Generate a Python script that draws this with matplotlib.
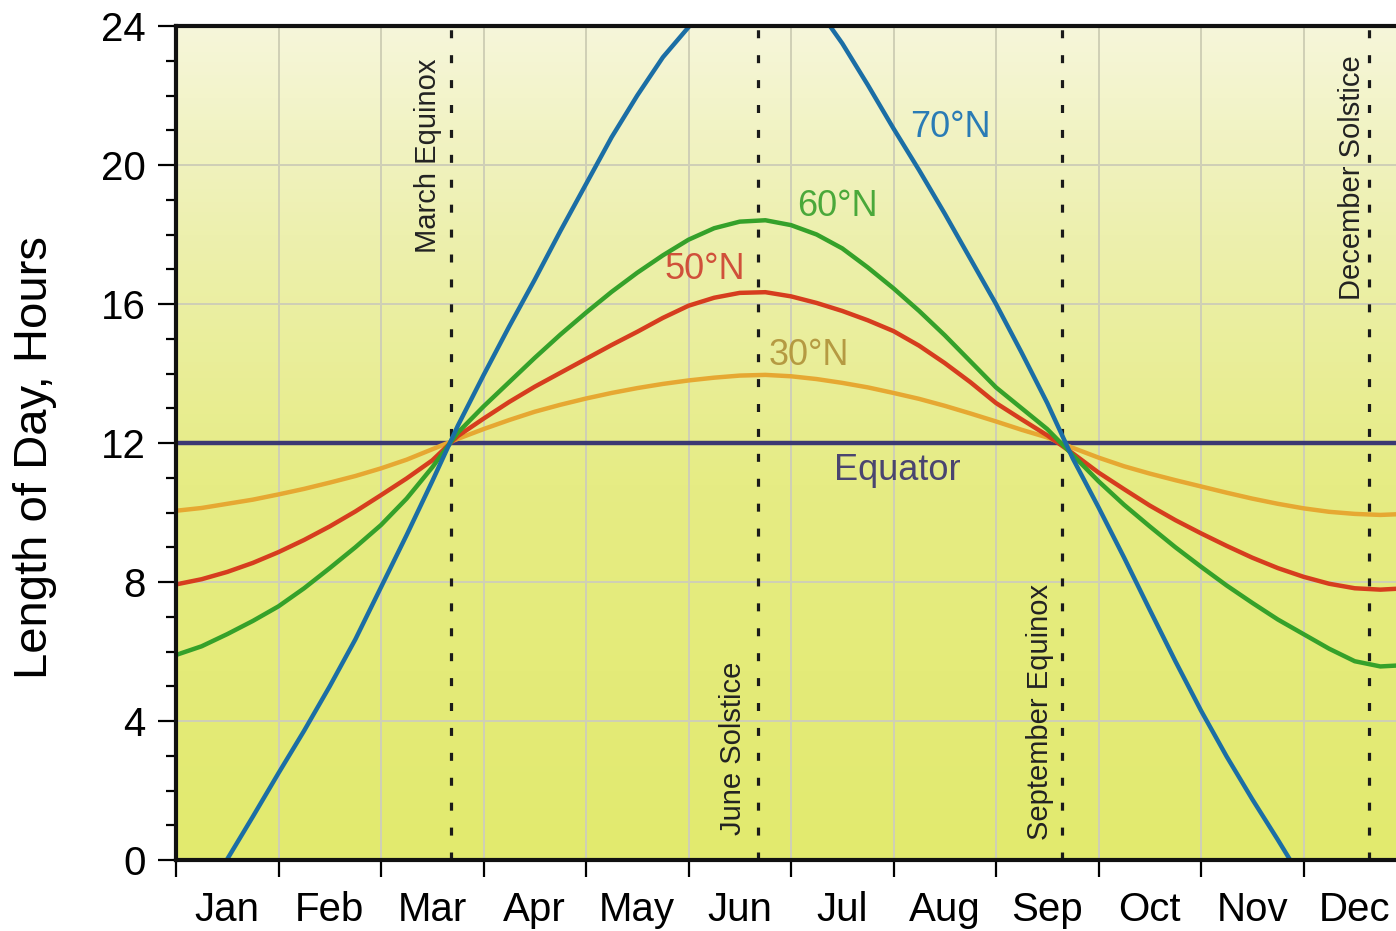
#!/usr/bin/env python3

# Length of day through the year for several northern latitudes

import numpy as np
import matplotlib.pyplot as plt
from matplotlib.colors import LinearSegmentedColormap

plt.rcParams['font.family'] = ['Liberation Sans', 'DejaVu Sans']

###################################################################################

# Data (x = months since Jan 1, y = hours of daylight)

months = ['Jan', 'Feb', 'Mar', 'Apr', 'May', 'Jun',
          'Jul', 'Aug', 'Sep', 'Oct', 'Nov', 'Dec']

# quarter-month positions 0, 0.25, ... 12
x_lat = [0.0, 0.25, 0.5, 0.75, 1.0, 1.25, 1.5, 1.75, 2.0, 2.25, 2.5, 2.75,
         3.0, 3.25, 3.5, 3.75, 4.0, 4.25, 4.5, 4.75, 5.0, 5.25, 5.5, 5.75,
         6.0, 6.25, 6.5, 6.75, 7.0, 7.25, 7.5, 7.75, 8.0, 8.25, 8.5, 8.75,
         9.0, 9.25, 9.5, 9.75, 10.0, 10.25, 10.5, 10.75, 11.0, 11.25, 11.5, 11.75,
         12.0]

day_30n = [10.05, 10.13, 10.25, 10.37, 10.52, 10.68, 10.86, 11.05, 11.27, 11.52, 11.82, 12.12,
           12.40, 12.66, 12.90, 13.10, 13.28, 13.44, 13.58, 13.70, 13.80, 13.88, 13.94, 13.96,
           13.92, 13.84, 13.73, 13.60, 13.44, 13.27, 13.07, 12.85, 12.62, 12.38, 12.16, 11.86,
           11.58, 11.33, 11.12, 10.93, 10.75, 10.57, 10.40, 10.25, 10.12, 10.02, 9.96, 9.93,
           9.96]

day_50n = [7.93, 8.08, 8.29, 8.55, 8.86, 9.21, 9.60, 10.03, 10.50, 10.98, 11.50, 12.20,
           12.70, 13.18, 13.62, 14.02, 14.42, 14.82, 15.20, 15.60, 15.95, 16.18, 16.32, 16.34,
           16.22, 16.03, 15.80, 15.53, 15.22, 14.80, 14.30, 13.75, 13.15, 12.68, 12.22, 11.70,
           11.15, 10.67, 10.20, 9.78, 9.40, 9.04, 8.70, 8.40, 8.15, 7.95, 7.82, 7.78,
           7.82]

day_60n = [5.90, 6.15, 6.50, 6.88, 7.30, 7.82, 8.40, 9.00, 9.64, 10.40, 11.30, 12.30,
           13.05, 13.75, 14.45, 15.12, 15.75, 16.35, 16.90, 17.40, 17.85, 18.18, 18.37, 18.41,
           18.27, 18.00, 17.60, 17.05, 16.45, 15.80, 15.10, 14.35, 13.60, 13.00, 12.40, 11.65,
           10.90, 10.22, 9.60, 9.00, 8.44, 7.90, 7.40, 6.92, 6.50, 6.08, 5.72, 5.57,
           5.61]

x_70n_rise = [0.495, 0.75, 1.0, 1.25, 1.5, 1.75, 2.0, 2.25, 2.5, 2.75, 3.0, 3.25,
              3.5, 3.75, 4.0, 4.25, 4.5, 4.75, 5.01]
day_70n_rise = [0.0, 1.25, 2.5, 3.72, 5.0, 6.35, 7.85, 9.35, 10.9, 12.5, 13.95, 15.35,
                16.7, 18.1, 19.45, 20.8, 22.0, 23.1, 24.0]

x_70n_fall = [6.38, 6.5, 6.75, 7.0, 7.25, 7.5, 7.75, 8.0, 8.25, 8.5, 8.75, 9.0,
              9.25, 9.5, 9.75, 10.0, 10.25, 10.5, 10.75, 10.87]
day_70n_fall = [24.0, 23.5, 22.3, 21.05, 19.85, 18.6, 17.3, 16.0, 14.6, 13.15, 11.55, 10.15,
                8.7, 7.2, 5.72, 4.3, 2.98, 1.75, 0.58, 0.0]

x_equator = [0.0, 12.0]
day_equator = [12.0, 12.0]

events = ['March Equinox', 'June Solstice', 'September Equinox', 'December Solstice']
event_x = [2.68, 5.68, 8.645, 11.64]

###################################################################################

fig = plt.figure(figsize=(13.96, 9.31), dpi=100)
ax = fig.add_axes([176 / 1396, 71 / 931, 1230 / 1396, 834 / 931])

ax.set_xlim(0, 12)
ax.set_ylim(0, 24)

# background gradient (pale cream at top -> yellow-green at bottom)
cmap = LinearSegmentedColormap.from_list(
    'bg', [(0.0, '#e2ea6e'), (0.45, '#e6ec84'), (0.75, '#edf0ae'), (1.0, '#f6f6da')])
grad = np.linspace(0, 1, 256).reshape(-1, 1)
ax.imshow(grad, extent=[0, 1, 0, 1], transform=ax.transAxes, origin='lower',
          aspect='auto', cmap=cmap, zorder=0)

# grid
for m in range(1, 12):
    ax.axvline(m, color='#cfcfb6', lw=1.4, zorder=1)
for h in range(4, 24, 4):
    ax.axhline(h, color='#cfcfb6', lw=1.4, zorder=1)

# event lines
for xe in event_x:
    ax.axvline(xe, color='#1a1a1a', lw=2.3, linestyle=(0, (2.5, 5.3)), zorder=2)

# curves
ax.plot(x_equator, day_equator, color='#3c3873', lw=3.2, zorder=3)
ax.plot(x_lat, day_30n, color='#e6a832', lw=3.2, zorder=4)
ax.plot(x_lat, day_50n, color='#d63d1e', lw=3.2, zorder=5)
ax.plot(x_lat, day_60n, color='#35a12a', lw=3.2, zorder=6)
ax.plot(x_70n_rise, day_70n_rise, color='#1b6ea5', lw=3.2, zorder=7)
ax.plot(x_70n_fall, day_70n_fall, color='#1b6ea5', lw=3.2, zorder=7)

# curve labels
ax.text(7.16, 21.07, '70°N', color='#2a7bb5', fontsize=26, ha='left', va='center')
ax.text(6.06, 18.82, '60°N', color='#4aa83a', fontsize=26, ha='left', va='center')
ax.text(4.77, 16.98, '50°N', color='#d0503a', fontsize=26, ha='left', va='center')
ax.text(5.78, 14.53, '30°N', color='#b59a42', fontsize=26, ha='left', va='center')
ax.text(7.04, 11.22, 'Equator', color='#4a4570', fontsize=26, ha='center', va='center')

# event labels
ax.text(2.46, 20.26, events[0], rotation=90, fontsize=21, color='#222222',
        ha='center', va='center')
ax.text(5.43, 3.22, events[1], rotation=90, fontsize=21, color='#222222',
        ha='center', va='center')
ax.text(8.43, 4.26, events[2], rotation=90, fontsize=21, color='#222222',
        ha='center', va='center')
ax.text(11.47, 19.65, events[3], rotation=90, fontsize=21, color='#222222',
        ha='center', va='center')

# axes styling
for side in ['left', 'bottom', 'top']:
    ax.spines[side].set_linewidth(3)
    ax.spines[side].set_color('#111111')
    ax.spines[side].set_zorder(10)
ax.spines['right'].set_visible(False)

ax.set_yticks(range(0, 25, 4))
ax.set_yticks(range(0, 25), minor=True)
ax.tick_params(axis='y', which='major', length=13, width=1.6, labelsize=29, pad=9)
ax.tick_params(axis='y', which='minor', length=7, width=1.6)

ax.set_xticks(range(0, 13))
ax.set_xticklabels([])
ax.set_xticks(np.arange(0.5, 12, 1), minor=True)
ax.set_xticklabels(months, minor=True)
ax.tick_params(axis='x', which='major', length=12, width=1.6)
ax.tick_params(axis='x', which='minor', length=0, labelsize=29, pad=22)

fig.text(35 / 1396, 0.5086, 'Length of Day, Hours', rotation=90, fontsize=34,
         ha='center', va='center')

fig.savefig('out.png', dpi=100)
